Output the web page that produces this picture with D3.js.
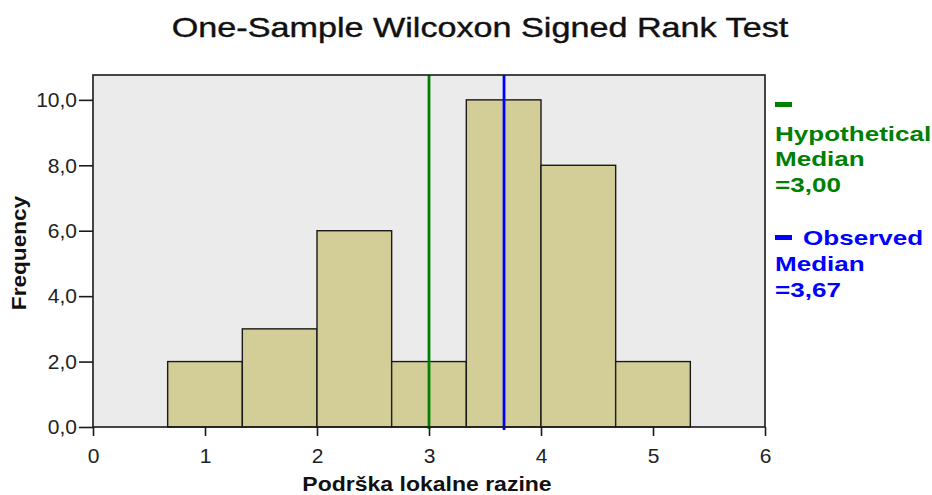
<!DOCTYPE html>
<html>
<head>
<meta charset="utf-8">
<script src="https://cdn.jsdelivr.net/npm/d3@7"></script>
<style>
  body { margin: 0; background: #fff; }
  text { font-family: "Liberation Sans", Arial, sans-serif; }
</style>
</head>
<body>
<script>
// histogram data
const binLo = [2/3, 4/3, 2, 8/3, 10/3, 4, 14/3]
const binHi = [4/3, 2, 8/3, 10/3, 4, 14/3, 16/3]
const counts = [2, 3, 6, 2, 10, 8, 2]
const xTicks = [0, 1, 2, 3, 4, 5, 6]
const yTicks = [0, 2, 4, 6, 8, 10]
const hypMedian = 3.00
const obsMedian = 3.67

const W = 932, H = 495
const margin = { top: 75, right: 167, bottom: 68, left: 93 }
const width = W - margin.left - margin.right
const height = H - margin.top - margin.bottom

const svg = d3.select("body").append("svg")
    .attr("width", W)
    .attr("height", H)

const g = svg.append("g")
    .attr("transform", "translate(" + margin.left + "," + margin.top + ")")

const x = d3.scaleLinear().domain([0, 6]).range([0, width])
const y = d3.scaleLinear().domain([0, 10.76]).range([height, 0])

// the SPSS text is drawn a bit wider than Arial, stretch it
function stretch(sel, k) {
    sel.each(function() {
        const w = this.getComputedTextLength()
        d3.select(this).attr("textLength", w * k).attr("lengthAdjust", "spacingAndGlyphs")
    })
}

// plot background
g.append("rect")
    .attr("width", width)
    .attr("height", height)
    .attr("fill", "#ebebeb")

// bars
g.append("g")
    .selectAll("rect")
    .data(counts)
    .enter()
    .append("rect")
    .attr("x", (d, i) => x(binLo[i]))
    .attr("width", (d, i) => x(binHi[i]) - x(binLo[i]))
    .attr("y", d => y(d))
    .attr("height", d => y(0) - y(d))
    .attr("fill", "#d3ce98")
    .attr("stroke", "#1a1a1a")
    .attr("stroke-width", 1.4)

// median lines
g.append("line")
    .attr("x1", x(hypMedian)).attr("x2", x(hypMedian))
    .attr("y1", 0).attr("y2", height + 2)
    .attr("stroke", "#008000").attr("stroke-width", 2.8)
g.append("line")
    .attr("x1", x(obsMedian)).attr("x2", x(obsMedian))
    .attr("y1", 0).attr("y2", height + 3)
    .attr("stroke", "#0000ff").attr("stroke-width", 2.8)

// frame
g.append("rect")
    .attr("width", width)
    .attr("height", height)
    .attr("fill", "none")
    .attr("stroke", "#1a1a1a")
    .attr("stroke-width", 1.6)

// axes
const fmt = d => d.toFixed(1).replace(".", ",")
const yAxis = g.append("g")
    .call(d3.axisLeft(y).tickValues(yTicks).tickFormat(fmt).tickSize(14).tickPadding(2))
const xAxis = g.append("g")
    .attr("transform", "translate(0," + height + ")")
    .call(d3.axisBottom(x).tickValues(xTicks).tickFormat(d3.format("d")).tickSize(9).tickPadding(12))

;[yAxis, xAxis].forEach(a => {
    a.select(".domain").remove()
    a.selectAll("line").attr("stroke", "#1a1a1a").attr("stroke-width", 1.6)
    a.selectAll("text")
        .attr("fill", "#222")
        .style("font-size", "21px")
})

// title and axis labels
svg.append("text")
    .attr("x", 480)
    .attr("y", 37)
    .attr("text-anchor", "middle")
    .style("font-size", "28px")
    .attr("fill", "#111")
    .attr("stroke", "#111").attr("stroke-width", 0.4)
    .text("One-Sample Wilcoxon Signed Rank Test")
    .call(stretch, 1.22)

svg.append("text")
    .attr("x", 427)
    .attr("y", 491)
    .attr("text-anchor", "middle")
    .style("font-size", "20px")
    .style("font-weight", "bold")
    .attr("fill", "#111")
    .text("Podrška lokalne razine")
    .call(stretch, 1.15)

svg.append("text")
    .attr("transform", "translate(26,253) rotate(-90)")
    .attr("text-anchor", "middle")
    .style("font-size", "20px")
    .style("font-weight", "bold")
    .attr("fill", "#111")
    .text("Frequency")
    .call(stretch, 1.13)

// legend
const legend = [
    { color: "#008000", rectY: 102, lines: [["Hypothetical", 141], ["Median", 166], ["=3,00", 192]] },
    { color: "#0000ff", rectY: 235, lines: [["Observed", 245, 803], ["Median", 271], ["=3,67", 297]] }
]
legend.forEach(l => {
    svg.append("rect")
        .attr("x", 775).attr("y", l.rectY)
        .attr("width", 17).attr("height", 5)
        .attr("fill", l.color)
    l.lines.forEach(s => {
        svg.append("text")
            .attr("x", s[2] || 775)
            .attr("y", s[1])
            .attr("fill", l.color)
            .style("font-size", "21px")
            .style("font-weight", "bold")
            .text(s[0])
            .call(stretch, 1.24)
    })
})
</script>
</body>
</html>
